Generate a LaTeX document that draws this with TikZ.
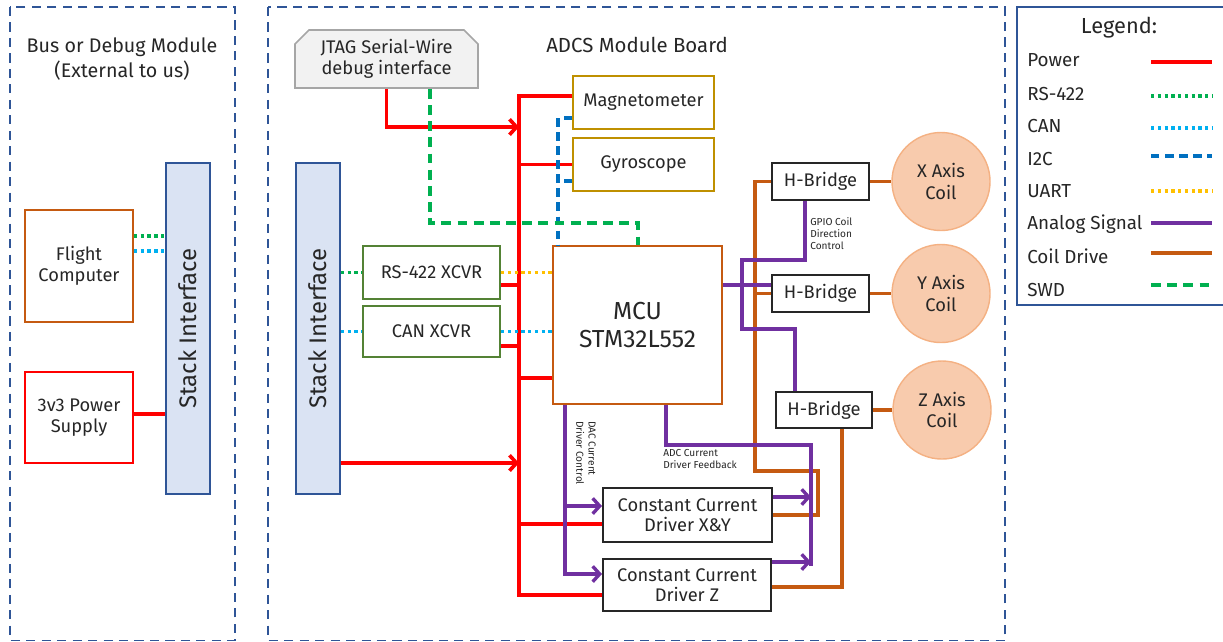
\documentclass[tikz,border=0pt]{standalone}
\usepackage{fontspec}
\setmainfont{Fira Sans}
\usepackage{xcolor}
\usepackage{tikz}
\usetikzlibrary{shapes,arrows.meta,positioning,calc}

\definecolor{ink}{HTML}{262626}
\definecolor{frameblue}{HTML}{2F5597}
\definecolor{stackfill}{HTML}{DAE3F3}
\definecolor{pwrred}{HTML}{FF0000}
\definecolor{rsgreen}{HTML}{00B050}
\definecolor{cancyan}{HTML}{00B0F0}
\definecolor{i2cblue}{HTML}{0070C0}
\definecolor{uartyellow}{HTML}{FFC000}
\definecolor{anapurple}{HTML}{7030A0}
\definecolor{coilorange}{HTML}{C55A11}
\definecolor{sensgold}{HTML}{BF9000}
\definecolor{xcvrgreen}{HTML}{548235}
\definecolor{coilfill}{HTML}{F8CBAD}
\definecolor{coilline}{HTML}{F4B183}
\definecolor{jtagfill}{HTML}{F2F2F2}
\definecolor{jtagline}{HTML}{A6A6A6}
\newcommand{\sizeto}[2]{\fontsize{#1}{#2}\selectfont}

\begin{document}
\begin{tikzpicture}[
    x=0.025cm, y=-0.025cm,
    modframe/.style={draw=frameblue, line width=1pt, dash pattern=on 6.5pt off 4.5pt},
    blk/.style={rectangle, line width=1.4pt, align=center, text=ink, inner sep=1pt, font=\sizeto{13}{15}},
    sensor/.style={blk, draw=sensgold, minimum width=3.525cm, minimum height=1.325cm},
    xcvr/.style={blk, draw=xcvrgreen, minimum width=3.425cm},
    drv/.style={blk, draw=ink, minimum width=4.225cm, minimum height=1.35cm, font=\sizeto{13}{14.5}},
    hbr/.style={blk, draw=ink, minimum width=2.425cm, minimum height=0.925cm},
    coilc/.style={circle, draw=coilline, fill=coilfill, line width=1pt, minimum size=2.45cm, inner sep=0pt, align=center, text=ink, font=\sizeto{13}{15.5}},
    stackbox/.style={chamfered rectangle, chamfered rectangle corners={north west,south west}, chamfered rectangle xsep=5pt, chamfered rectangle ysep=5pt, draw=frameblue, fill=stackfill, line width=1.2pt, minimum width=1.1cm, minimum height=8.275cm, inner sep=0pt},
    title/.style={text=ink, align=center, inner sep=0pt},
    note/.style={text=ink, font=\sizeto{7.2}{8.6}, inner sep=0pt, align=left},
    legtext/.style={text=ink, font=\sizeto{13.4}{15}, inner sep=0pt, anchor=base west},
    pwr/.style={draw=pwrred, line width=2.6pt},
    pwrarr/.style={pwr, -{Straight Barb[length=5pt,width=11pt]}},
    ana/.style={draw=anapurple, line width=2.4pt},
    anaarr/.style={ana, -{Straight Barb[length=5pt,width=11pt]}},
    coil/.style={draw=coilorange, line width=2.4pt},
    rs/.style={draw=rsgreen, line width=2.4pt, dash pattern=on 2.4pt off 2.4pt},
    canbus/.style={draw=cancyan, line width=2.4pt, dash pattern=on 2.4pt off 2.4pt},
    uart/.style={draw=uartyellow, line width=2.4pt, dash pattern=on 2.4pt off 2.4pt},
    i2c/.style={draw=i2cblue, line width=2.4pt, dash pattern=on 6pt off 4pt},
    swd/.style={draw=rsgreen, line width=2.4pt, dash pattern=on 7pt off 4.5pt}
]
    \useasboundingbox (0,0) rectangle (1223,641);

    \draw [modframe] (10,7) rectangle (235,640.5);
    \draw [modframe] (268,7) rectangle (1005,640.5);
    \draw [draw=frameblue, line width=1.2pt] (1017,7) rectangle (1240,305);

    \node [title, font=\sizeto{14}{18}] (bustitle) at (122,59) {Bus or Debug Module\\(External to us)};
    \node [title, font=\sizeto{14.5}{17}] (adcstitle) at (637,45) {ADCS Module Board};
    \node [title, font=\sizeto{15.5}{18}] (legtitle) at (1119,28) {Legend:};

    \node [blk, draw=coilorange, minimum width=2.7cm, minimum height=2.8cm] (fc) at (79,266) {Flight\\Computer};
    \node [blk, draw=pwrred, minimum width=2.7cm, minimum height=2.275cm] (psu) at (79,417.5) {3v3 Power\\Supply};
    \node [stackbox, label={[rotate=90, text=ink, font=\sizeto{17}{20}]center:Stack Interface}] (stackL) at (188,328.5) {};
    \node [stackbox, label={[rotate=90, text=ink, font=\sizeto{17}{20}]center:Stack Interface}] (stackR) at (318,328.5) {};

    \node [blk, chamfered rectangle, chamfered rectangle corners={north west,north east}, chamfered rectangle xsep=5pt, chamfered rectangle ysep=5pt, draw=jtagline, fill=jtagfill, line width=1.2pt, minimum width=4.575cm, minimum height=1.45cm] (jtag) at (386.5,59) {JTAG Serial-Wire\\debug interface};
    \node [sensor] (mag) at (643.5,102.5) {Magnetometer};
    \node [sensor] (gyro) at (643.5,164.5) {Gyroscope};
    \node [xcvr, draw=xcvrgreen, minimum height=1.325cm] (rs) at (431.5,272.5) {RS-422 XCVR};
    \node [xcvr, minimum height=1.275cm] (can) at (431.5,331.5) {CAN XCVR};
    \node [blk, draw=coilorange, minimum width=4.225cm, minimum height=3.95cm, font=\sizeto{17.5}{20}] (mcu) at (637.5,325) {MCU\\STM32L552};
    \node [drv] (ccdxy) at (687.5,515) {Constant Current\\Driver X\&Y};
    \node [drv, minimum width=4.2cm, minimum height=1.3cm] (ccdz) at (687,585) {Constant Current\\Driver Z};
    \node [hbr] (hbx) at (820.5,181.5) {H-Bridge};
    \node [hbr] (hby) at (820.5,293.5) {H-Bridge};
    \node [hbr, minimum width=2.4cm, minimum height=0.9cm] (hbz) at (824,410) {H-Bridge};
    \node [coilc] (coilx) at (941,181.5) {X Axis\\Coil};
    \node [coilc] (coily) at (941,293.5) {Y Axis\\Coil};
    \node [coilc] (coilz) at (942,410) {Z Axis\\Coil};

    \node [note, anchor=north west] (gpionote) at (810,217) {GPIO Coil\\Direction\\Control};
    \node [note, anchor=north west] (adcnote) at (663,449) {ADC Current\\Driver Feedback};
    \node [note, rotate=-90] (dacnote) at (586,453) {DAC Current\\Driver Control};

    \coordinate (busTop) at (519,96);
    \coordinate (busBot) at (519,595);

    \draw [pwr] (psu.east |- 0,414) -- (stackL.west |- 0,414);
    \draw [pwr] (mag.west |- busTop) -- (busTop) -- (busBot) -- (ccdz.west |- busBot);
    \draw [pwr] (gyro.west) -- (gyro.west -| busTop);
    \draw [pwr] (rs.east |- 0,285) -- (busTop |- 0,285);
    \draw [pwr] (can.east |- 0,346) -- (busTop |- 0,346);
    \draw [pwr] (mcu.west |- 0,378) -- (busTop |- 0,378);
    \draw [pwr] (ccdxy.west |- 0,524) -- (busTop |- 0,524);
    \draw [pwrarr] (jtag.south) |- (busTop |- 0,127);
    \draw [pwrarr] (stackR.east |- 0,463) -- (busTop |- 0,463);

    \draw [rs] (fc.east |- 0,236) -- (stackL.west |- 0,236);
    \draw [canbus] (fc.east |- 0,251) -- (stackL.west |- 0,251);
    \draw [rs] (stackR.east |- rs.west) -- (rs.west);
    \draw [uart] (rs.east) -- (rs.east -| mcu.west);
    \draw [canbus] (stackR.east |- can.west) -- (can.west);
    \draw [canbus] (can.east) -- (can.east -| mcu.west);

    \draw [i2c] (mag.west |- 0,118) -| (558,0 |- mcu.north);
    \draw [i2c] (gyro.west |- 0,181) -- (558,181);
    \draw [swd] (430,0 |- jtag.south) |- (638,223) -- (638,0 |- mcu.north);

    \draw [coil] (hbx.east) -- (coilx);
    \draw [coil] (hby.east) -- (coily);
    \draw [coil] (hbz.east) -- (coilz);
    \draw [coil] (hbx.west) -| (755,471) -| (818,515) -- (ccdxy.east |- 0,515);
    \draw [coil] (hby.west) -- (hby.west -| 755,0);
    \draw [coil] (842,0 |- hbz.south) |- (ccdz.east |- 0,587);

    \draw [ana] (mcu.east |- 0,285) -- (hby.west |- 0,285);
    \draw [ana] (805,0 |- hbx.south) -- (805,260) -- (742,260) -- (742,329) -- (795,329) -- (795,0 |- hbz.north);
    \draw [anaarr] (565,0 |- mcu.south) |- (ccdz.west |- 0,574);
    \draw [anaarr] (565,506) -- (ccdxy.west |- 0,506);
    \draw [ana] (666,0 |- mcu.south) |- (811,445) -- (811,566);
    \draw [anaarr] (ccdxy.east |- 0,497) -- (811,497);
    \draw [anaarr] (ccdz.east |- 0,562) -- (811,562);

    \foreach \lname/\lsty/\ty/\ly [count=\i] in {Power/pwr/66/62, RS-422/rs/100/96, CAN/canbus/132/128, I2C/i2c/165/156, UART/uart/197/191, Analog Signal/ana/229/223, Coil Drive/coil/263/253, SWD/swd/296/285} {
        \node [legtext] (leg\i) at (1027,\ty) {\lname};
        \draw [\lsty] (1151,\ly) -- (1212,\ly);
    }
\end{tikzpicture}
\end{document}
